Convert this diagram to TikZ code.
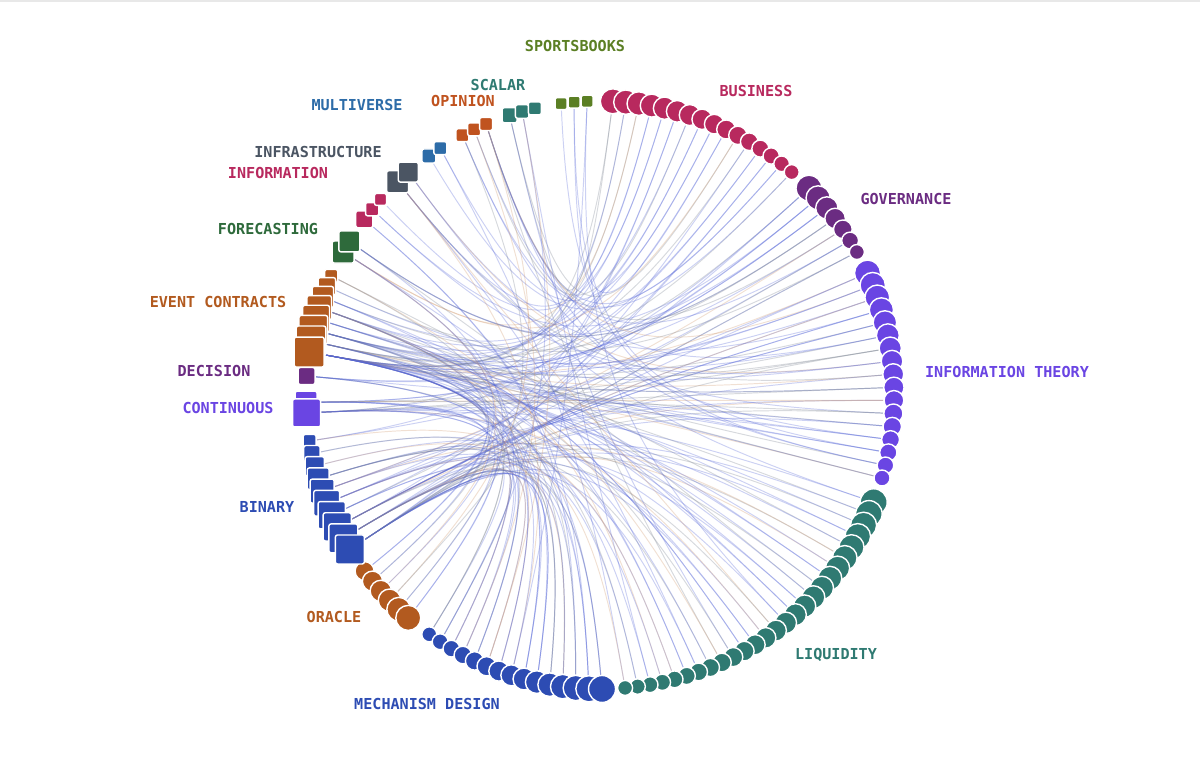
\documentclass[tikz,border=0pt]{standalone}
\usepackage{fontspec}
\setmonofont{DejaVu Sans Mono}
\usetikzlibrary{calc,backgrounds}

\definecolor{cbus}{HTML}{B8295E}
\definecolor{cgov}{HTML}{6B2C82}
\definecolor{cith}{HTML}{6A45E3}
\definecolor{cliq}{HTML}{2F7A72}
\definecolor{cmech}{HTML}{2D4CB3}
\definecolor{corc}{HTML}{B25A1F}
\definecolor{cevt}{HTML}{B25A1F}
\definecolor{cbin}{HTML}{2D4CB3}
\definecolor{ccont}{HTML}{6A45E3}
\definecolor{cdec}{HTML}{6B2C82}
\definecolor{cfore}{HTML}{2E6A3B}
\definecolor{cinfo}{HTML}{B8295E}
\definecolor{cinfra}{HTML}{4B5563}
\definecolor{cmulti}{HTML}{2D6CA8}
\definecolor{copin}{HTML}{C0531F}
\definecolor{cscal}{HTML}{2F7A72}
\definecolor{csport}{HTML}{5B7F24}
\definecolor{cblue}{HTML}{5566D6}
\definecolor{cgray}{HTML}{7A8290}
\definecolor{ctan}{HTML}{D19A6E}

\tikzset{dot/.style = {circle, draw = white, line width = 0.8pt, inner sep = 0}}
\tikzset{box/.style = {rectangle, rounded corners = 1.2pt, draw = white, line width = 0.8pt, inner sep = 0}}
\tikzset{lbl/.style = {font = \ttfamily\bfseries\fontsize{8.6}{10}\selectfont}}
\tikzset{chord/.style = {line width = 0.55pt, draw opacity = 0.3}}

\pgfmathdeclarerandomlist{targets}{{evt8}{evt8}{evt8}{evt8}{evt8}{evt8}{evt8}{evt7}{evt7}{evt7}{evt6}{evt6}{evt6}{evt5}{evt5}{evt4}{evt4}{evt3}{evt2}{evt1}%
  {bin10}{bin10}{bin10}{bin10}{bin10}{bin10}{bin10}{bin9}{bin9}{bin9}{bin8}{bin8}{bin8}{bin7}{bin7}{bin6}{bin6}{bin5}{bin5}{bin4}{bin3}{bin2}{bin1}%
  {cont2}{cont2}{cont2}{cont1}{cont1}{dec1}{dec1}{fore1}{fore1}{fore2}{fore2}{info1}{info1}{info2}{info3}%
  {infra1}{infra1}{infra2}{infra2}{multi1}{multi2}{opin1}{opin2}{opin3}{scal1}{scal2}{scal3}{sport1}{sport2}{sport3}}
\pgfmathdeclarerandomlist{tints}{{cblue}{cblue}{cblue}{cblue}{cgray}{cgray}{ctan}}

\begin{document}
\begin{tikzpicture}[x = 0.02cm, y = 0.02cm]
    \useasboundingbox (-600, -362) rectangle (600, 395);
    \draw [black!9, line width = 1pt] (-600, 394) -- (600, 394);
    \coordinate (hub) at (-25, -5);

    % topics
    \foreach \nm/\a/\b/\n/\sa/\sb/\col in {bus/87.5/49.3/16/25/15/cbus, gov/44.7/29.1/7/26/15/cgov,
        ith/24.5/-16.4/17/26/16/cith, liq/-21.4/-85.1/27/27/15/cliq, mech/234.5/270.4/15/15/27/cmech,
        orc/216.8/229.3/6/19/25/corc}
      \foreach \i in {1,...,\n} {
        \pgfmathsetmacro\ang{\a + (\b - \a)*(\i - 1)/(\n - 1)}
        \pgfmathsetmacro\sz{\sa + (\sb - \sa)*(\i - 1)/(\n - 1)}
        \node [dot, fill = \col, minimum size = \sz*0.02cm] (\nm\i) at (\ang:294) {};
      }

    % market types
    \foreach \nm/\a/\b/\n/\sa/\sb/\col in {sport/97.6/92.5/3/12/12/csport, scal/107.9/102.8/3/15/13/cscal,
        opin/117.9/112.8/3/13/13/copin, multi/125.6/122.9/2/14/13/cmulti, infra/133.5/130.7/2/22/20/cinfra,
        info/143.3/138.3/3/17/12/cinfo, fore/150.9/148.5/2/22/21/cfore, evt/156.1/171.6/8/13/30/cevt,
        dec/176.3/176.3/1/17/17/cdec, cont/181.4/183.5/2/22/28/ccont, bin/189/211.7/10/13/29/cbin}
      \foreach \i in {1,...,\n} {
        \pgfmathsetmacro\t{(\i - 1)/max(\n - 1, 1)}
        \pgfmathsetmacro\ang{\a + (\b - \a)*\t}
        \pgfmathsetmacro\sz{\sb - (\sb - \sa)*(1 - \t)^2}
        \node [box, fill = \col, minimum size = \sz*0.02cm] (\nm\i) at (\ang:294) {};
      }

    \node [lbl, text = csport] (l-sport) at (-25, 349) {SPORTSBOOKS};
    \node [lbl, text = cscal] (l-scal) at (-102, 310) {SCALAR};
    \node [lbl, text = copin] (l-opin) at (-137, 294) {OPINION};
    \node [lbl, text = cmulti] (l-multi) at (-243, 290) {MULTIVERSE};
    \node [lbl, text = cinfra] (l-infra) at (-282, 243) {INFRASTRUCTURE};
    \node [lbl, text = cinfo] (l-info) at (-322, 222) {INFORMATION};
    \node [lbl, text = cfore] (l-fore) at (-332, 166) {FORECASTING};
    \node [lbl, text = cevt] (l-evt) at (-382, 93) {EVENT CONTRACTS};
    \node [lbl, text = cdec] (l-dec) at (-386, 24) {DECISION};
    \node [lbl, text = ccont] (l-cont) at (-372, -13) {CONTINUOUS};
    \node [lbl, text = cbin] (l-bin) at (-333, -112) {BINARY};
    \node [lbl, text = corc] (l-orc) at (-266, -222) {ORACLE};
    \node [lbl, text = cmech] (l-mech) at (-173, -309) {MECHANISM DESIGN};
    \node [lbl, text = cliq] (l-liq) at (236, -260) {LIQUIDITY};
    \node [lbl, text = cith] (l-ith) at (407, 23) {INFORMATION THEORY};
    \node [lbl, text = cgov] (l-gov) at (306, 196) {GOVERNANCE};
    \node [lbl, text = cbus] (l-bus) at (156, 304) {BUSINESS};

    % chords
    \pgfmathsetseed{42}
    \begin{scope}[on background layer]
      \foreach \nm/\n/\m in {bus/16/2, gov/7/3, ith/17/3, liq/27/2, mech/15/3, orc/6/2}
        \foreach \i in {1,...,\n}
          \foreach \k in {1,...,\m} {
            \pgfmathrandomitem{\t}{targets}
            \pgfmathrandomitem{\c}{tints}
            \draw [chord, draw = \c] (\nm\i) .. controls ($(hub)!0.18!(\nm\i)$) and ($(hub)!0.18!(\t)$) .. (\t);
          }
    \end{scope}
\end{tikzpicture}
\end{document}
